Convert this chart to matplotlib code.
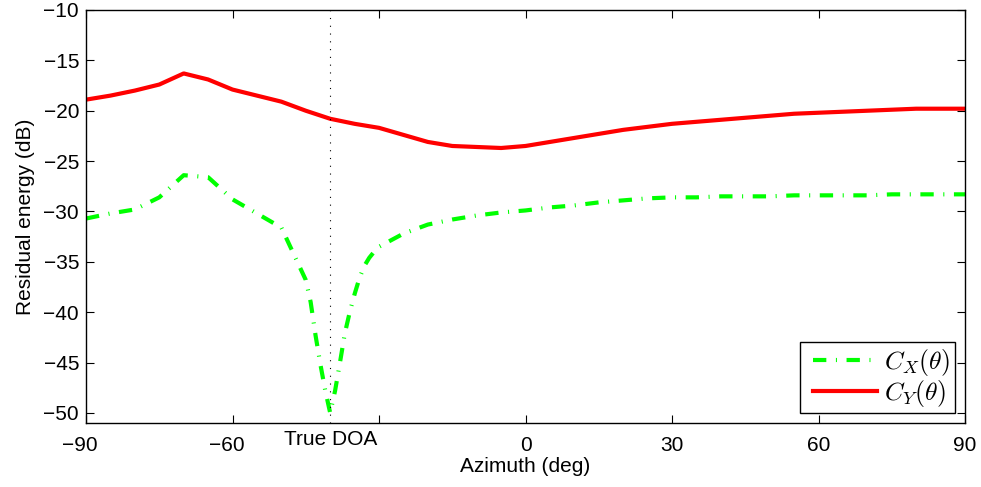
import matplotlib
matplotlib.use("Agg")
import matplotlib.pyplot as plt
import matplotlib.transforms as mtransforms
from matplotlib.legend_handler import HandlerLine2D
import numpy as np

plt.rcParams['font.family'] = ['Liberation Sans', 'DejaVu Sans']
plt.rcParams['mathtext.fontset'] = 'cm'

# azimuth grid (deg): 5 deg steps, 1 deg steps around the true DOA
az_x = [-90, -85, -80, -75, -70, -65, -60, -55, -50, -45, -44, -43, -42, -41, -40,
        -39, -38, -37, -36, -35, -34, -33, -32, -31, -30, -25, -20, -15, -10, -5,
        0, 5, 10, 15, 20, 25, 30, 35, 40, 45, 50, 55, 60, 65, 70, 75, 80, 85, 90]
c_x = [-30.7, -30.2, -29.8, -28.6, -26.4, -26.6, -28.8, -30.2, -31.6, -36.8, -39.0, -42.3, -45.2, -47.8, -50.0,
       -47.8, -45.0, -42.1, -40.0, -38.2, -36.6, -35.4, -34.6, -34.0, -33.5, -32.2, -31.3, -30.8, -30.4, -30.1,
       -29.9, -29.6, -29.4, -29.1, -28.9, -28.7, -28.6, -28.6, -28.5, -28.5, -28.5, -28.4, -28.4, -28.4, -28.4, -28.3, -28.3, -28.3, -28.3]

az_y = [-90, -85, -80, -75, -70, -65, -60, -55, -50, -45, -40, -35, -30, -25, -20, -15, -10, -5,
        0, 5, 10, 15, 20, 25, 30, 35, 40, 45, 50, 55, 60, 65, 70, 75, 80, 85, 90]
c_y = [-18.9, -18.5, -18.0, -17.4, -16.3, -16.9, -17.9, -18.5, -19.1, -20.0, -20.8, -21.3, -21.7, -22.4, -23.1, -23.5, -23.6, -23.7,
       -23.5, -23.1, -22.7, -22.3, -21.9, -21.6, -21.3, -21.1, -20.9, -20.7, -20.5, -20.3, -20.2, -20.1, -20.0, -19.9, -19.8, -19.8, -19.8]

true_doa = -40
xticks = [-90, -60, -30, 0, 30, 60, 90]
xtick_labels = ['\u221290', '\u221260', '', '0', '30', '60', '90']

fig = plt.figure(figsize=(9.81, 4.87), dpi=100)
ax = fig.add_axes([0.0877, 0.1314, 0.896, 0.8481])

ax.plot(az_x, c_x, color='#00ff00', lw=3, dashes=(3.2, 2.3, 0.25, 2.3), label=r'$C_X(\theta)\;$')
ax.plot(az_y, c_y, color='#ff0000', lw=3, label=r'$C_Y(\theta)\;$')
ax.axvline(true_doa, color='black', lw=0.8, linestyle=(0, (1, 6)))

ax.set_xlim(-90, 90)
ax.set_ylim(-51, -10)
ax.set_xticks(xticks)
ax.set_xticklabels(xtick_labels)
ax.set_yticks(np.arange(-50, -9, 5))
ax.tick_params(direction='in', top=True, right=True, length=6, width=0.8, labelsize=15)
ax.tick_params(axis='x', pad=9)
ax.tick_params(axis='y', pad=5)
for s in ax.spines.values():
    s.set_linewidth(1.0)

# matlab-style: digits centred on the tick, the minus hangs to the left
shift = mtransforms.ScaledTranslation(-6 / 100, 0, fig.dpi_scale_trans)
for lab in ax.get_xticklabels():
    if lab.get_text().startswith('\u2212'):
        lab.set_transform(lab.get_transform() + shift)

ax.text(true_doa, -0.018, 'True DOA', transform=ax.get_xaxis_transform(),
        ha='center', va='top', fontsize=15)

ax.set_xlabel('Azimuth (deg)', fontsize=15, labelpad=2)
ax.set_ylabel('Residual energy (dB)', fontsize=15, labelpad=6)

leg = ax.legend(loc='lower right', fontsize=18.5, handlelength=2.8, handletextpad=0.3,
                handler_map={plt.Line2D: HandlerLine2D(xpad=0.32)},
                fancybox=False, framealpha=1, edgecolor='black', borderpad=0.18,
                labelspacing=0.0, borderaxespad=0.38)
leg.get_frame().set_linewidth(1.0)

fig.savefig('out.png', dpi=100)
